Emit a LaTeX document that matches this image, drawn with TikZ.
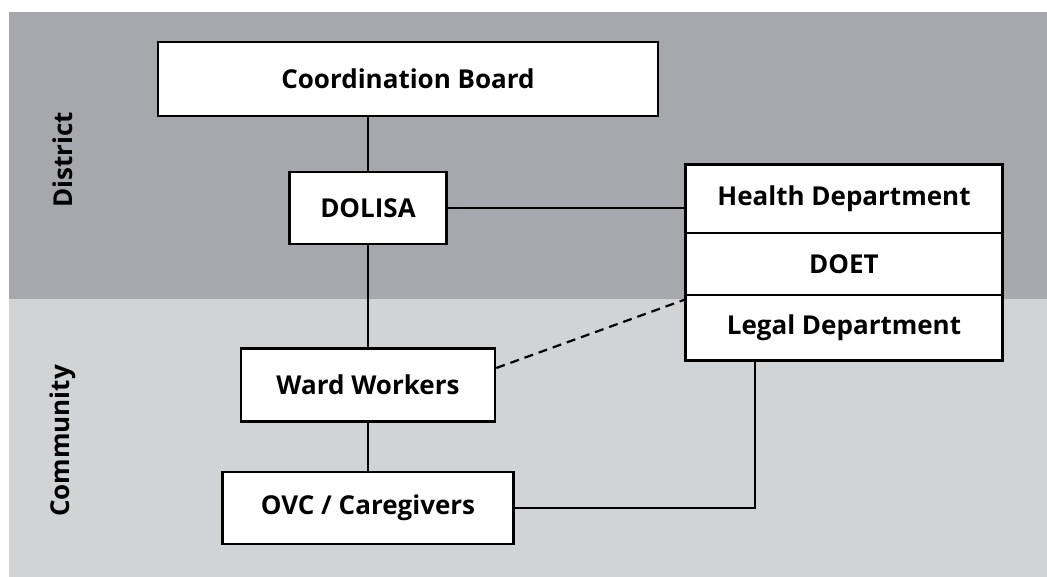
\documentclass[tikz,border=0pt]{standalone}
\usepackage{fontspec}
\setmainfont{Open Sans}
\usetikzlibrary{calc}
\definecolor{districtgray}{HTML}{A7A8AB}
\definecolor{communitygray}{HTML}{D2D3D5}

\begin{document}
\begin{tikzpicture}[x=1pt,y=-1pt]
        \tikzstyle{unit}=[draw=black,line width=2.6pt,fill=white,inner sep=0pt,font=\fontsize{26}{30}\selectfont\bfseries]
        \tikzstyle{dept}=[draw=black,line width=1.2pt,fill=white,inner sep=0pt,minimum width=316pt,font=\fontsize{26}{30}\selectfont\bfseries]
        \tikzstyle{link}=[line width=2.2pt]
        \tikzstyle{level}=[rotate=90,font=\fontsize{26}{30}\selectfont\bfseries]
        \useasboundingbox (0,0) rectangle (1047,577);
        % bands
        \fill[districtgray] (9,12) rectangle (1047,299);
        \fill[communitygray] (9,299) rectangle (1047,577);
        \node[level] (district) at (63,160) {District};
        \node[level] (community) at (63,441) {Community};
        % units
        \node[unit,minimum width=500pt,minimum height=74pt] (board) at (408,79) {Coordination Board};
        \node[unit,minimum width=157pt,minimum height=72pt] (dolisa) at (368,208) {DOLISA};
        \node[unit,minimum width=254pt,minimum height=73pt] (ward) at (368,385) {Ward Workers};
        \node[unit,minimum width=291pt,minimum height=72pt] (ovc) at (368,508) {OVC / Caregivers};
        \node[dept,minimum height=68pt] (health) at (844,199) {Health Department};
        \node[dept,minimum height=62pt] (doet) at (844,264) {DOET};
        \node[dept,minimum height=65pt] (legal) at (844,327.5) {Legal Department};
        \draw[line width=2.6pt] (health.north west) rectangle (legal.south east);
        % connectors
        \draw[link] (board.south -| dolisa.north) -- (dolisa.north);
        \draw[link] (dolisa.east) -- (dolisa.east -| health.west);
        \draw[link] (dolisa.south) -- (ward.north);
        \draw[link] (ward.south) -- (ovc.north);
        \draw[link,dash pattern=on 9pt off 6pt] ([yshift=17pt]ward.east) -- ([yshift=-5pt]legal.north west);
        \coordinate (legalfoot) at ([xshift=-89pt]legal.south);
        \draw[link] (ovc.east) -| (legalfoot);
      \end{tikzpicture}
\end{document}
